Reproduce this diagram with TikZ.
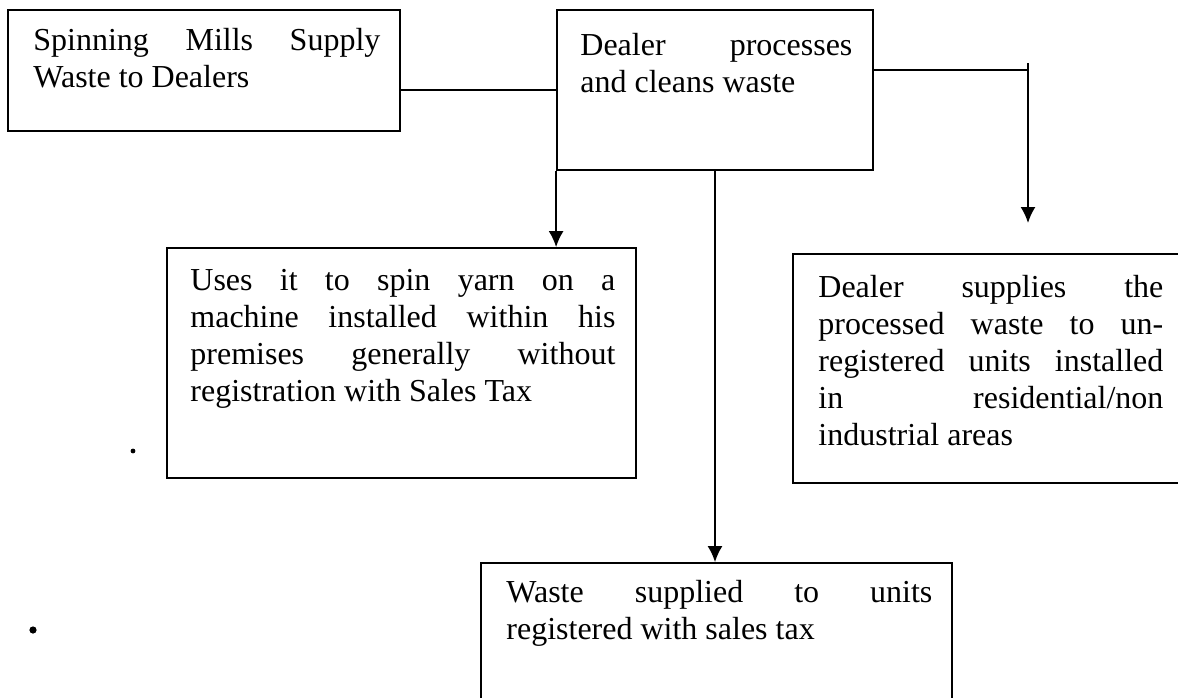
\documentclass[tikz,border=0pt]{standalone}
\usepackage{fontspec}
\setmainfont{Liberation Serif}
\usetikzlibrary{arrows.meta,fit}
\newcommand{\jl}[1]{\hbox to \linewidth{#1}}
\newcommand{\nl}[1]{\hbox{#1}}
\newcommand{\boxtext}[2]{\parbox[t]{#1}{\fontsize{16}{18.5}\selectfont #2}}
\tikzset{
  box/.style={draw, line width=0.9pt, inner sep=0pt, rectangle},
  txt/.style={inner sep=0pt, anchor=base west},
  conn/.style={line width=0.9pt},
  arr/.style={line width=0.9pt, -{Latex[length=8pt,width=7.5pt]}},
}
\begin{document}
\begin{tikzpicture}[x=0.5pt,y=-0.5pt]
\clip (0,0) rectangle (1178,697);
\fill[white] (0,0) rectangle (1178,697);
% boxes
\node[box, fit={(8,10) (400,131)}] (A) {};
\node[box, fit={(557,10) (873,170)}] (B) {};
\node[box, fit={(167,248) (636,478)}] (C) {};
\node[box, fit={(793,254) (1195,483)}] (D) {};
\node[box, fit={(481,563) (952,720)}] (E) {};
% texts
\node[txt] (At) at (33,50) {\boxtext{173.5pt}{\jl{Spinning Mills Supply}\nl{Waste to Dealers}}};
\node[txt] (Bt) at (580,55) {\boxtext{136pt}{\jl{Dealer processes}\nl{and cleans waste}}};
\node[txt] (Ct) at (190,290) {\boxtext{212.5pt}{\jl{Uses it to spin yarn on a}\jl{machine installed within his}\jl{premises generally without}\nl{registration with Sales Tax}}};
\node[txt] (Dt) at (818,297) {\boxtext{172.5pt}{\jl{Dealer supplies the}\jl{processed waste to un-}\jl{registered units installed}\jl{in residential/non}\nl{industrial areas}}};
\node[txt] (Et) at (506,602) {\boxtext{213pt}{\jl{Waste supplied to units}\nl{registered with sales tax}}};
% connectors
\draw[conn] (A.east |- B.west) -- (B.west);
\coordinate (r1) at (1028,70);
\coordinate (r0) at (1028,63);
\coordinate (dTip) at (1028,223);
\coordinate (eX) at (715,0);
\draw[conn] (B.east |- r1) -- (r1);
\draw[arr] (r0) -- (dTip);
\draw[arr] (B.south west) -- (B.south west |- C.north);
\draw[arr] (B.south -| eX) -- (E.north -| eX);
% scan specks
\fill (133,451) circle (1.2pt);
\fill (33,630) circle (1.8pt);
\end{tikzpicture}
\end{document}
